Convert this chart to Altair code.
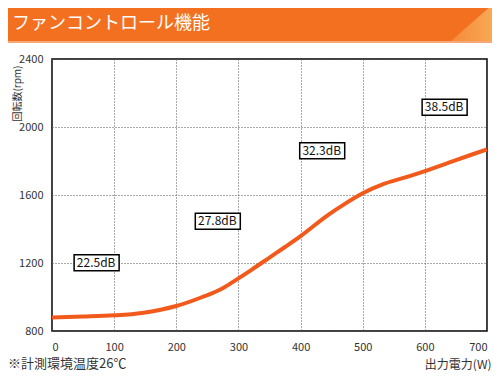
import altair as alt
import pandas as pd

# curve data (output power W, fan speed rpm)
power_w = [0, 50, 100, 145, 175, 200, 242, 274, 295, 321, 350, 375, 400, 444, 470, 500, 534, 570, 600, 650, 700]
fan_rpm = [880, 885, 892, 906, 925, 947, 1000, 1050, 1098, 1160, 1232, 1294, 1358, 1482, 1545, 1610, 1665, 1705, 1741, 1805, 1869]

# noise labels
label_text = ["22.5dB", "27.8dB", "32.3dB", "38.5dB"]
label_w = [71, 266, 434, 631]
label_rpm = [1202, 1445, 1860, 2116]

x_ticks = [0, 100, 200, 300, 400, 500, 600, 700]
y_ticks = [800, 1200, 1600, 2000, 2400]

title_text = "ファンコントロール機能"
x_title = "出力電力(W)"
y_title = "回転数(rpm)"
note_text = "※計測環境温度26℃"

FONT = "Noto Sans CJK JP"

curve = pd.DataFrame({"W": power_w, "rpm": fan_rpm})
labels = pd.DataFrame({"W": label_w, "rpm": label_rpm, "t": label_text})

xs = alt.Scale(domain=[0, 700], nice=False, zero=False)
ys = alt.Scale(domain=[800, 2400], nice=False, zero=False)

x_axis = alt.Axis(values=x_ticks, format="d", grid=True, ticks=False, tickSize=0, domain=False,
                  labelPadding=10, labelFontSize=11, labelColor="#333333", labelFont=FONT,
                  title=x_title, titleFont=FONT, titleFontSize=12, titleFontWeight="normal",
                  titleColor="#333333", titleX=439, titleY=33, titleAlign="right",
                  titleBaseline="middle", gridDash=[1, 2], gridColor="#555555", gridWidth=1)
y_axis = alt.Axis(values=y_ticks, format="d", grid=True, ticks=False, tickSize=0, domain=False,
                  labelPadding=9, labelFontSize=11, labelColor="#333333", labelFont=FONT,
                  title=y_title, titleFont=FONT, titleFontSize=10, titleFontWeight="normal",
                  titleColor="#333333", titleX=-35, titleY=6, titleAngle=270,
                  titleAlign="right", titleBaseline="middle",
                  gridDash=[1, 2], gridColor="#555555", gridWidth=1)

base = alt.Chart(curve)

line = base.mark_line(color="#F25A1C", strokeWidth=4, interpolate="monotone").encode(
    x=alt.X("W:Q", scale=xs, axis=x_axis),
    y=alt.Y("rpm:Q", scale=ys, axis=y_axis),
)

boxes = alt.Chart(labels).mark_rect(
    fill="white", stroke="black", strokeWidth=1.5,
    xOffset=-22, x2Offset=23, yOffset=-8, y2Offset=8
).encode(
    x=alt.X("W:Q", scale=xs), x2="W:Q",
    y=alt.Y("rpm:Q", scale=ys), y2="rpm:Q",
)

texts = alt.Chart(labels).mark_text(
    font=FONT, fontSize=12, color="#111111", align="center", baseline="middle"
).encode(
    x=alt.X("W:Q", scale=xs),
    y=alt.Y("rpm:Q", scale=ys),
    text="t:N",
)

banner = alt.Chart(curve).mark_rect(color="#F37021").encode(
    x=alt.value(-44), x2=alt.value(440), y=alt.value(-51), y2=alt.value(-18)
)
banner_line = alt.Chart(curve).mark_rect(color="#F8A878").encode(
    x=alt.value(-44), x2=alt.value(440), y=alt.value(-18), y2=alt.value(-16.5)
)
corner = alt.Chart(pd.DataFrame({"a": [0]})).mark_point(
    shape="M1,-0.88L1,0.88L-1,0.88Z", size=1681, filled=True, opacity=1, strokeWidth=0,
    fill=alt.LinearGradient(gradient="linear", x1=0, y1=0, x2=1, y2=0,
                            stops=[alt.GradientStop(color="#F58A3A", offset=0),
                                   alt.GradientStop(color="#F8A854", offset=1)])
).encode(x=alt.value(419.5), y=alt.value(-36))

title = alt.Chart(pd.DataFrame({"t": [title_text]})).mark_text(
    font=FONT, fontSize=18, color="white", align="left", baseline="middle"
).encode(x=alt.value(-40), y=alt.value(-35), text="t:N")

note = alt.Chart(pd.DataFrame({"t": [note_text]})).mark_text(
    font=FONT, fontSize=13, color="#333333", align="left", baseline="middle"
).encode(x=alt.value(-44), y=alt.value(305), text="t:N")

chart = alt.layer(banner, banner_line, corner, title, line, boxes, texts, note).properties(
    width=435, height=272,
    autosize=alt.AutoSizeParams(type="none"),
    padding={"left": 44, "top": 51, "right": 5, "bottom": 40},
).configure_view(stroke="black", strokeWidth=1.5)

chart.save("out.html", embed_options={"renderer": "svg", "actions": False})
